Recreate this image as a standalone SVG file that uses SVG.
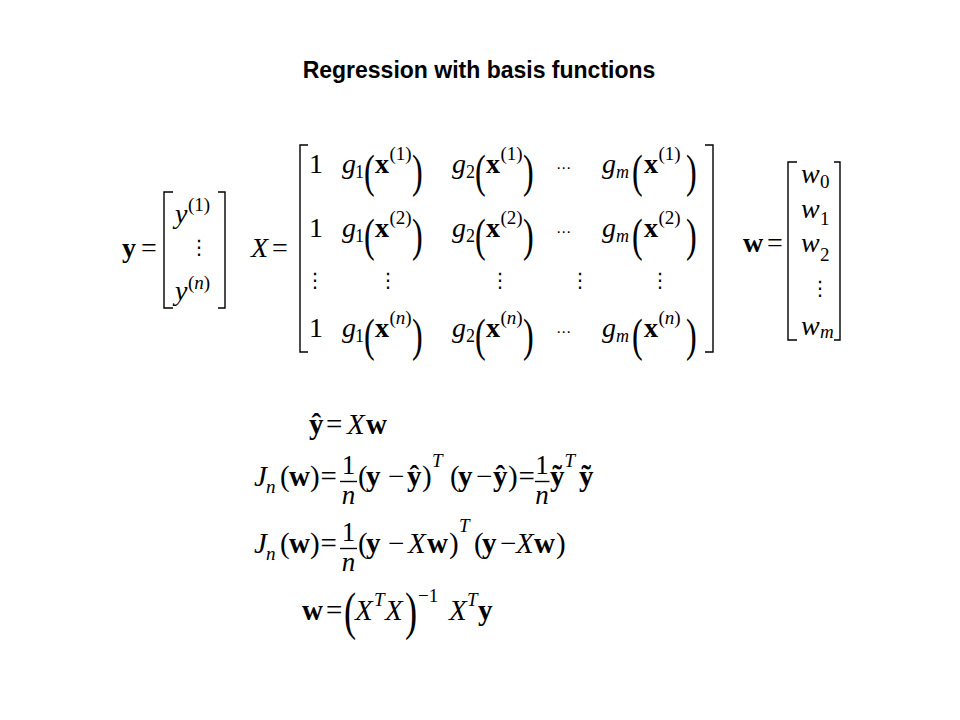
<svg xmlns="http://www.w3.org/2000/svg" width="960" height="720" viewBox="0 0 960 720">
<style>
.t{font-family:"Liberation Serif","Times New Roman",serif;font-size:28px;fill:#000}
.e{font-size:29px}
.f{font-size:27px}
.i{font-style:italic}
.b{font-weight:bold}
.s{font-size:19px}
.ss{font-size:18px}
.d{font-family:"DejaVu Sans",sans-serif;font-size:20px;fill:#000}
.h{font-family:"DejaVu Sans",sans-serif;font-size:15px;fill:#000}
.bp{font-family:"Liberation Serif","Times New Roman",serif;font-size:46px;fill:#000}
.bq{font-family:"Liberation Serif","Times New Roman",serif;font-size:52px;fill:#000}
.br{fill:none;stroke:#000;stroke-width:1.4}
.title{font-family:"Liberation Sans",Arial,sans-serif;font-size:23px;font-weight:bold;fill:#000}
</style>
<rect width="960" height="720" fill="#fff"/>
<text class="title" x="479" y="78" text-anchor="middle">Regression with basis functions</text>

<g id="vec-y">
<text class="t b" x="122" y="257">y</text>
<text class="t" x="141" y="257">=</text>
<path class="br" d="M173,192 H164 V308 H173 M218,192 H225 V308 H218"/>
<text class="t i" x="175" y="223">y</text>
<text class="t s" x="188" y="211">(1)</text>
<text class="d" x="189" y="254">⋮</text>
<text class="t i" x="175" y="300">y</text>
<text class="t s" x="188" y="289">(<tspan class="i">n</tspan>)</text>
</g>

<g id="mat-X">
<text class="t i" x="251" y="257">X</text>
<text class="t" x="272" y="257">=</text>
<path class="br" d="M308,145 H300 V352 H308 M705,145 H713 V352 H705"/>
<g id="row1">
<text class="t" x="309" y="173">1</text>
<text class="t i" x="342" y="173">g</text><text class="t ss" x="355" y="178">1</text>
<text class="bp" transform="translate(364,187) scale(0.7,1)">(</text>
<text class="t b" x="375" y="173">x</text><text class="t s" x="389.5" y="160">(1)</text>
<text class="bp" transform="translate(412,187) scale(0.7,1)">)</text>
<text class="t i" x="452" y="173">g</text><text class="t ss" x="466" y="178">2</text>
<text class="bp" transform="translate(475,187) scale(0.7,1)">(</text>
<text class="t b" x="486" y="173">x</text><text class="t s" x="500.5" y="160">(1)</text>
<text class="bp" transform="translate(523,187) scale(0.7,1)">)</text>
<text class="h" x="556" y="173">⋯</text>
<text class="t i" x="602" y="173">g</text><text class="t ss i" x="616" y="178">m</text>
<text class="bp" transform="translate(632,187) scale(0.7,1)">(</text>
<text class="t b" x="644" y="173">x</text><text class="t s" x="658.5" y="160">(1)</text>
<text class="bp" transform="translate(686,187) scale(0.7,1)">)</text>
</g>
<g id="row2">
<text class="t" x="309" y="237">1</text>
<text class="t i" x="342" y="237">g</text><text class="t ss" x="355" y="242">1</text>
<text class="bp" transform="translate(364,251) scale(0.7,1)">(</text>
<text class="t b" x="375" y="237">x</text><text class="t s" x="389.5" y="224">(2)</text>
<text class="bp" transform="translate(412,251) scale(0.7,1)">)</text>
<text class="t i" x="452" y="237">g</text><text class="t ss" x="466" y="242">2</text>
<text class="bp" transform="translate(475,251) scale(0.7,1)">(</text>
<text class="t b" x="486" y="237">x</text><text class="t s" x="500.5" y="224">(2)</text>
<text class="bp" transform="translate(523,251) scale(0.7,1)">)</text>
<text class="h" x="556" y="237">⋯</text>
<text class="t i" x="602" y="237">g</text><text class="t ss i" x="616" y="242">m</text>
<text class="bp" transform="translate(632,251) scale(0.7,1)">(</text>
<text class="t b" x="644" y="237">x</text><text class="t s" x="658.5" y="224">(2)</text>
<text class="bp" transform="translate(686,251) scale(0.7,1)">)</text>
</g>
<g id="row3">
<text class="d" x="305" y="287">⋮</text>
<text class="d" x="378" y="287">⋮</text>
<text class="d" x="490" y="287">⋮</text>
<text class="d" x="570" y="287">⋮</text>
<text class="d" x="650" y="287">⋮</text>
</g>
<g id="row4">
<text class="t" x="309" y="337">1</text>
<text class="t i" x="342" y="337">g</text><text class="t ss" x="355" y="342">1</text>
<text class="bp" transform="translate(364,351) scale(0.7,1)">(</text>
<text class="t b" x="375" y="337">x</text><text class="t s" x="389.5" y="324">(<tspan class="i">n</tspan>)</text>
<text class="bp" transform="translate(412,351) scale(0.7,1)">)</text>
<text class="t i" x="452" y="337">g</text><text class="t ss" x="466" y="342">2</text>
<text class="bp" transform="translate(475,351) scale(0.7,1)">(</text>
<text class="t b" x="486" y="337">x</text><text class="t s" x="500.5" y="324">(<tspan class="i">n</tspan>)</text>
<text class="bp" transform="translate(523,351) scale(0.7,1)">)</text>
<text class="h" x="556" y="337">⋯</text>
<text class="t i" x="602" y="337">g</text><text class="t ss i" x="616" y="342">m</text>
<text class="bp" transform="translate(632,351) scale(0.7,1)">(</text>
<text class="t b" x="644" y="337">x</text><text class="t s" x="658.5" y="324">(<tspan class="i">n</tspan>)</text>
<text class="bp" transform="translate(686,351) scale(0.7,1)">)</text>
</g>
</g>

<g id="vec-w">
<text class="t b" x="743" y="252">w</text>
<text class="t" x="767" y="252">=</text>
<path class="br" d="M797,162 H788 V340 H797 M834,162 H840 V340 H834"/>
<text class="t i" x="801" y="183">w</text><text class="t s" x="820" y="188">0</text>
<text class="t i" x="801" y="218">w</text><text class="t s" x="820" y="225">1</text>
<text class="t i" x="801" y="252">w</text><text class="t s" x="820" y="261">2</text>
<text class="d" x="810" y="295">⋮</text>
<text class="t i" x="801" y="335">w</text><text class="t s i" x="820" y="338">m</text>
</g>

<g id="eq1">
<text class="t e b" x="309" y="434">ŷ</text>
<text class="t e" x="326" y="434">=</text>
<text class="t e i" x="347" y="434">X</text>
<text class="t e b" x="366" y="434">w</text>
</g>

<g id="eq2">
<text class="t e i" x="254" y="486">J</text><text class="t s i" x="266" y="493">n</text>
<text class="t e" x="280" y="486">(</text><text class="t e b" x="289" y="486">w</text><text class="t e" x="310" y="486">)</text>
<text class="t e" x="320.5" y="486">=</text>
<text class="t f" x="348.5" y="474" text-anchor="middle">1</text>
<line class="br" x1="340" y1="481.5" x2="357" y2="481.5"/>
<text class="t f i" x="348.5" y="504" text-anchor="middle">n</text>
<text class="t e" x="358" y="486">(</text><text class="t e b" x="366" y="486">y</text>
<text class="t e" x="388" y="486">−</text>
<text class="t e b" x="407" y="486">ŷ</text><text class="t e" x="422" y="486">)</text>
<text class="t s i" x="432" y="467">T</text>
<text class="t e" x="450" y="486">(</text><text class="t e b" x="458" y="486">y</text>
<text class="t e" x="476" y="486">−</text>
<text class="t e b" x="493" y="486">ŷ</text><text class="t e" x="508" y="486">)</text>
<text class="t e" x="518.5" y="486">=</text>
<text class="t f" x="542" y="474" text-anchor="middle">1</text>
<line class="br" x1="535" y1="481.5" x2="549.5" y2="481.5"/>
<text class="t f i" x="542" y="504" text-anchor="middle">n</text>
<text class="t e b" x="550" y="486">ỹ</text>
<text class="t s i" x="564.5" y="467">T</text>
<text class="t e b" x="579" y="486">ỹ</text>
</g>

<g id="eq3">
<text class="t e i" x="254" y="553">J</text><text class="t s i" x="266" y="560">n</text>
<text class="t e" x="280" y="553">(</text><text class="t e b" x="289" y="553">w</text><text class="t e" x="310" y="553">)</text>
<text class="t e" x="320.5" y="553">=</text>
<text class="t f" x="348.5" y="541" text-anchor="middle">1</text>
<line class="br" x1="340" y1="548.5" x2="357" y2="548.5"/>
<text class="t f i" x="348.5" y="571" text-anchor="middle">n</text>
<text class="t e" x="358" y="553">(</text><text class="t e b" x="366" y="553">y</text>
<text class="t e" x="388" y="553">−</text>
<text class="t e i" x="408" y="553">X</text><text class="t e b" x="427" y="553">w</text>
<text class="t e" x="449" y="553">)</text>
<text class="t s i" x="459" y="532">T</text>
<text class="t e" x="474" y="553">(</text><text class="t e b" x="482" y="553">y</text>
<text class="t e" x="500" y="553">−</text>
<text class="t e i" x="516" y="553">X</text><text class="t e b" x="534" y="553">w</text>
<text class="t e" x="556" y="553">)</text>
</g>

<g id="eq4">
<text class="t e b" x="302" y="620">w</text>
<text class="t e" x="326" y="620">=</text>
<text class="bq" transform="translate(344,629) scale(0.7,1)">(</text>
<text class="t e i" x="355" y="620">X</text><text class="t s i" x="374" y="606">T</text>
<text class="t e i" x="385" y="620">X</text>
<text class="bq" transform="translate(405,629) scale(0.7,1)">)</text>
<text class="t s" x="418" y="602">−1</text>
<text class="t e i" x="449" y="620">X</text><text class="t s i" x="467" y="606">T</text>
<text class="t e b" x="478" y="620">y</text>
</g>
</svg>
